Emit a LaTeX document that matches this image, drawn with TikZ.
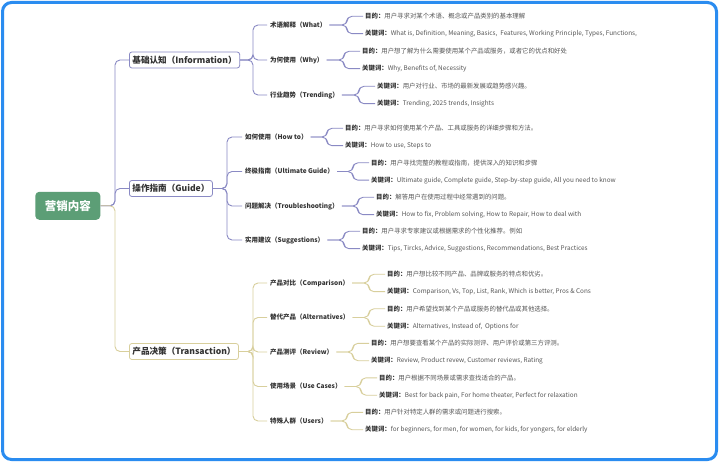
\documentclass[tikz,border=0pt]{standalone}
\usepackage{fontspec}
\setmainfont{Noto Sans CJK SC}
\definecolor{pl}{HTML}{8A8AC4}
\definecolor{yl}{HTML}{D8CF9C}
\definecolor{gr}{HTML}{5C9E76}
\definecolor{bl}{HTML}{2A8CF0}
\definecolor{tx}{HTML}{333333}
\definecolor{txb}{HTML}{555555}
\newcommand\leafpair[8]{%
  \node[leaf, anchor=west] (#1-a) at (#3-2, #2-8.7) {\textbf{\textcolor{tx}{#5：}}#6};
  \node[leaf, anchor=west] (#1-b) at (#3-2, #2+8.7) {\textbf{\textcolor{tx}{#7：}}#8};
  \coordinate (#1-k) at (#3-18, #2);
  \draw[#4] (#1.east) -- (#1-k) |- (#1-a.west);
  \draw[#4] (#1.east) -- (#1-k) |- (#1-b.west);
}
\begin{document}
\begin{tikzpicture}[x=1pt,y=-1pt,
  cp/.style={draw=pl, line width=0.9pt, rounded corners=5pt},
  cy/.style={draw=yl, line width=0.9pt, rounded corners=5pt},
  root/.style={fill=gr, rounded corners=4pt, text=white, font=\fontsize{11.5}{13}\selectfont\bfseries,
    minimum width=65pt, minimum height=28pt, inner sep=0pt},
  lone/.style={fill=white, line width=0.8pt, rounded corners=2.5pt, text=tx,
    font=\fontsize{8.6}{10}\selectfont\bfseries, inner xsep=3pt, inner ysep=0pt, minimum height=16pt},
  ltwo/.style={text=tx, font=\fontsize{6.5}{8}\selectfont\bfseries, inner xsep=3pt, inner ysep=1pt},
  leaf/.style={text=txb, font=\fontsize{6.4}{8}\selectfont, inner xsep=2pt, inner ysep=1pt}]
\useasboundingbox (0,0) rectangle (720,462);
\fill[white] (0,0) rectangle (720,462);
\draw[draw=bl, line width=3pt, rounded corners=9pt] (2.5,2.5) rectangle (716.5,459.5);

% root and level 1
\node[root] (root) at (67.8,205.8) {营销内容};
\node[lone, draw=pl, anchor=west] (info) at (129,60) {基础认知（Information）};
\node[lone, draw=pl, anchor=west] (guide) at (129,188.5) {操作指南（Guide）};
\node[lone, draw=yl, anchor=west] (trans) at (129,351.5) {产品决策（Transaction）};

\draw[cp] (root.east) -- ++(14.5,0) |- (info.west);
\draw[cp] (root.east) -- ++(14.5,0) |- (guide.west);
\draw[cy] (root.east) -- ++(14.5,0) |- (trans.west);

% level 2
\node[ltwo, anchor=west] (what) at (267,25) {术语解释（What）};
\node[ltwo, anchor=west] (why) at (267,60) {为何使用（Why）};
\node[ltwo, anchor=west] (trend) at (267,95) {行业趋势（Trending）};
\node[ltwo, anchor=west] (howto) at (242,137) {如何使用（How to）};
\node[ltwo, anchor=west] (ult) at (242,171.5) {终极指南（Ultimate Guide）};
\node[ltwo, anchor=west] (trbl) at (242,206) {问题解决（Troubleshooting）};
\node[ltwo, anchor=west] (sugg) at (242,240) {实用建议（Suggestions）};
\node[ltwo, anchor=west] (comp) at (267,283) {产品对比（Comparison）};
\node[ltwo, anchor=west] (alt) at (267,317.5) {替代产品（Alternatives）};
\node[ltwo, anchor=west] (rev) at (267,352) {产品测评（Review）};
\node[ltwo, anchor=west] (use) at (267,386.5) {使用场景（Use Cases）};
\node[ltwo, anchor=west] (users) at (267,421) {特殊人群（Users）};

\coordinate (infok) at (253,60);
\coordinate (guidek) at (227,188.5);
\coordinate (transk) at (253,351.5);
\foreach \c in {what,why,trend} {\draw[cp] (info.east) -- (infok) |- (\c.west);}
\foreach \c in {howto,ult,trbl,sugg} {\draw[cp] (guide.east) -- (guidek) |- (\c.west);}
\foreach \c in {comp,alt,rev,use,users} {\draw[cy] (trans.east) -- (transk) |- (\c.west);}

% leaves
\leafpair{what}{25}{365}{cp}{目的}{用户寻求对某个术语、概念或产品类别的基本理解}{关键词}{What is, Definition, Meaning, Basics,\ \ Features, Working Principle, Types, Functions,}
\leafpair{why}{60}{362}{cp}{目的}{用户想了解为什么需要使用某个产品或服务，或者它的优点和好处}{关键词}{Why, Benefits of, Necessity}
\leafpair{trend}{95}{377}{cp}{关键词}{用户对行业、市场的最新发展或趋势感兴趣。}{关键词}{Trending, 2025 trends, Insights}
\leafpair{howto}{137}{345}{cp}{目的}{用户寻求如何使用某个产品、工具或服务的详细步骤和方法。}{关键词}{How to use, Steps to}
\leafpair{ult}{171.5}{371}{cp}{目的}{用户寻找完整的教程或指南，提供深入的知识和步骤}{关键词}{Ultimate guide, Complete guide, Step-by-step guide, All you need to know}
\leafpair{trbl}{206}{376}{cp}{目的}{解答用户在使用过程中经常遇到的问题。}{关键词}{How to fix, Problem solving, How to Repair, How to deal with}
\leafpair{sugg}{240}{362}{cp}{目的}{用户寻求专家建议或根据需求的个性化推荐。例如}{关键词}{Tips, Tircks, Advice, Suggestions, Recommendations, Best Practices}
\leafpair{comp}{283}{387}{cy}{目的}{用户想比较不同产品、品牌或服务的特点和优劣。}{关键词}{Comparison, Vs, Top, List, Rank, Which is better, Pros \& Cons}
\leafpair{alt}{317.5}{387}{cy}{目的}{用户希望找到某个产品或服务的替代品或其他选择。}{关键词}{Alternatives, Instead of,\ \ Options for}
\leafpair{rev}{352}{371}{cy}{目的}{用户想要查看某个产品的实际测评、用户评价或第三方评测。}{关键词}{Review, Product revew, Customer reviews, Rating}
\leafpair{use}{386.5}{379}{cy}{目的}{用户根据不同场景或需求查找适合的产品。}{关键词}{Best for back pain, For home theater, Perfect for relaxation}
\leafpair{users}{421}{365}{cy}{目的}{用户针对特定人群的需求或问题进行搜索。}{关键词}{for beginners, for men, for women, for kids, for yongers, for elderly}
\end{tikzpicture}
\end{document}
